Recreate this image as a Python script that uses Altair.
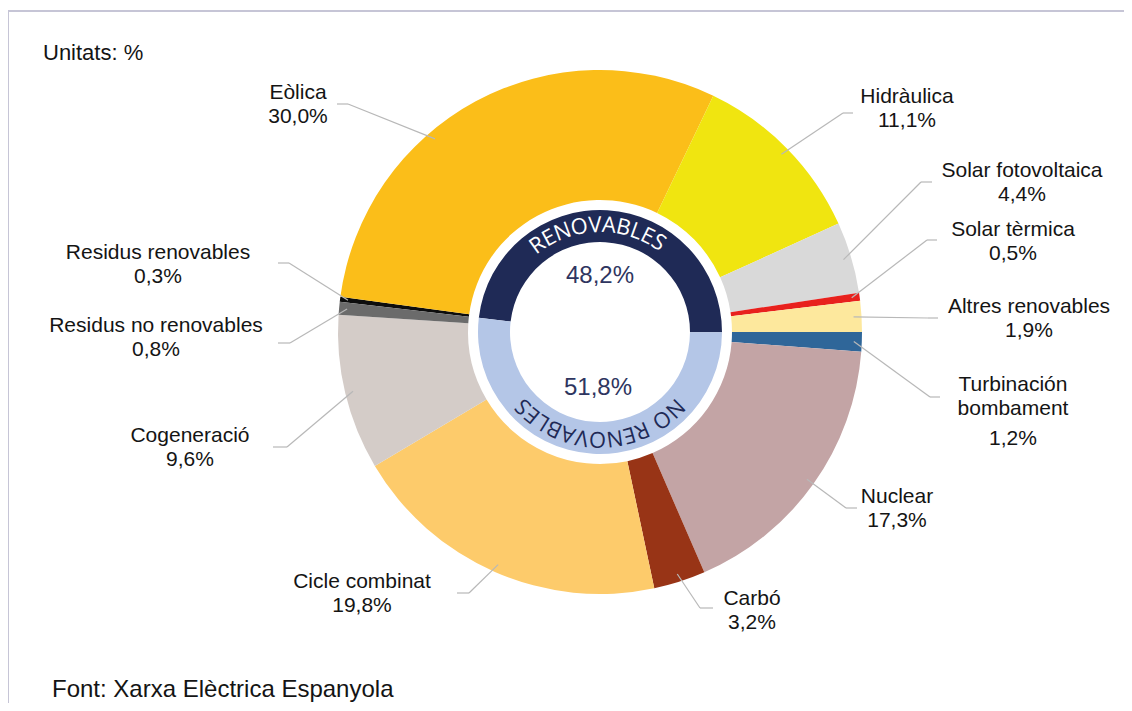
import math
import altair as alt
import pandas as pd

# ---------------- data ----------------
categories = ["Residus renovables", "Eòlica", "Hidràulica", "Solar fotovoltaica",
              "Solar tèrmica", "Altres renovables", "Turbinación bombament", "Nuclear",
              "Carbó", "Cicle combinat", "Cogeneració", "Residus no renovables"]
values = [0.3, 30.0, 11.1, 4.4, 0.5, 1.9, 1.2, 17.3, 3.2, 19.8, 9.6, 0.8]
renewable = [True, True, True, True, True, True, False, False, False, False, False, False]
label_lines = [["Residus renovables"], ["Eòlica"], ["Hidràulica"], ["Solar fotovoltaica"],
               ["Solar tèrmica"], ["Altres renovables"], ["Turbinación", "bombament"], ["Nuclear"],
               ["Carbó"], ["Cicle combinat"], ["Cogeneració"], ["Residus no renovables"]]
slice_colors = ["#0d0d0d", "#fbbe19", "#f0e510", "#d9d9d9", "#e8211d", "#fde89d",
                "#2f6699", "#c3a4a5", "#983416", "#fdcb6b", "#d4ccc8", "#6b6b6b"]

group_names = ["RENOVABLES", "NO RENOVABLES"]
group_values = [48.2, 51.8]
group_colors = ["#1f2a56", "#b4c6e7"]
group_text_colors = ["#ffffff", "#1f2a56"]

# ---------------- layout (page px, label text blocks & leader elbows) ----------------
OFF = 8
CX, CY = 600 - OFF, 332 - OFF
R_OUT, R_IN = 262, 132
RING_OUT, RING_IN = 122, 90
TIP_R = 254
LINE_H = 24

label_pos = [(158, 253), (298, 93), (907, 97), (1022, 171), (1013, 230), (1029, 307),
             (1013, 385), (897, 497), (752, 599), (362, 582), (190, 436), (156, 326)]
leader_attach = [(278, 263), (337, 104), (853, 113), (932, 182), (937, 240), (938, 318),
                 (940, 397), (857, 508), (713, 608), (457, 593), (273, 447), (278, 343)]
leader_elbow = [(289, 263), (348, 104), (843, 113), (921, 182), (927, 240), (928, 318),
                (930, 397), (846, 508), (700, 608), (469, 593), (287, 447), (290, 343)]
leader_tip_override = {1: -40.5}   # degrees clockwise from 12 o'clock


def fmt(v):
    return f"{v:.1f}".replace(".", ",") + "%"


# ---------------- derived tables ----------------
total = sum(values)
frac_ren = sum(v for v, r in zip(values, renewable) if r) / total
start = math.pi / 2 - 2 * math.pi * frac_ren

rows = []
acc = start
for c, v, col in zip(categories, values, slice_colors):
    a0 = acc
    acc += 2 * math.pi * v / total
    rows.append(dict(cat=c, value=v, t0=a0, t1=acc, mid=(a0 + acc) / 2, color=col))
slices = pd.DataFrame(rows)

grows = []
acc = start
for n, v, col in zip(group_names, group_values, group_colors):
    a0 = acc
    acc += 2 * math.pi * v / sum(group_values)
    grows.append(dict(name=n, value=v, t0=a0, t1=acc, color=col))
groups = pd.DataFrame(grows)

# label text rows
lab = []
for i, (lines, v) in enumerate(zip(label_lines, values)):
    lx, ly = label_pos[i]
    y = ly
    for ln in lines:
        lab.append(dict(x=lx - OFF, y=y - OFF, text=ln))
        y += LINE_H
    if len(lines) > 1:
        y += 6
    lab.append(dict(x=lx - OFF, y=y - OFF, text=fmt(v)))
labels = pd.DataFrame(lab)

# leader segments
seg = []
for i, r in slices.iterrows():
    ax, ay = leader_attach[i]
    ex, ey = leader_elbow[i]
    ang = math.radians(leader_tip_override[i]) if i in leader_tip_override else r["mid"]
    tx = CX + TIP_R * math.sin(ang)
    ty = CY - TIP_R * math.cos(ang)
    seg.append(dict(x=ax - OFF, y=ay - OFF, x2=ex - OFF, y2=ey - OFF))
    seg.append(dict(x=ex - OFF, y=ey - OFF, x2=tx, y2=ty))
segments = pd.DataFrame(seg)

# curved ring text
CW = {"R": .615, "E": .556, "N": .742, "O": .781, "V": .592, "A": .633,
      "B": .631, "L": .516, "S": .534, " ": .26}


def arc_text(s, center_deg, r, fs, track, color):
    widths = [CW[c] * fs for c in s]
    gap = track * fs
    length = sum(widths) + gap * (len(s) - 1)
    pos = -length / 2
    out = []
    for c, w in zip(s, widths):
        th = math.radians(center_deg) + (pos + w / 2) / r
        if c != " ":
            out.append(dict(ch=c, x=CX + r * math.sin(th), y=CY - r * math.cos(th),
                            ang=math.degrees(th) % 360, color=color))
        pos += w + gap
    return out


chars = pd.DataFrame(arc_text(group_names[0], -1.5, 107, 22, 0.03, group_text_colors[0])
                     + arc_text(group_names[1], 180, 107, 22, 0.03, group_text_colors[1]))

center_pct = pd.DataFrame([dict(x=CX, y=CY - 56, text=fmt(group_values[0])),
                           dict(x=CX - 2, y=CY + 56, text=fmt(group_values[1]))])

notes = pd.DataFrame([dict(x=43 - OFF, y=53 - OFF, text="Unitats: %", size=22),
                      dict(x=52 - OFF, y=690 - OFF, text="Font: Xarxa Elèctrica Espanyola", size=24)])

# ---------------- chart ----------------
frame = alt.Chart(pd.DataFrame([dict(x=0, y=3, x2=1116, y2=3), dict(x=0, y=3, x2=0, y2=695)])).mark_rule(
    color="#c6c5d6", strokeWidth=2).encode(
    x=alt.X("x:Q", scale=None), y=alt.Y("y:Q", scale=None),
    x2="x2:Q", y2="y2:Q")

outer = alt.Chart(slices).mark_arc(radius=R_OUT, radius2=R_IN).encode(
    theta=alt.Theta("t0:Q", scale=None, stack=None),
    theta2="t1:Q",
    color=alt.Color("color:N", scale=None),
    x=alt.value(CX), y=alt.value(CY))

inner = alt.Chart(groups).mark_arc(radius=RING_OUT, radius2=RING_IN).encode(
    theta=alt.Theta("t0:Q", scale=None, stack=None),
    theta2="t1:Q",
    color=alt.Color("color:N", scale=None),
    x=alt.value(CX), y=alt.value(CY))

leaders = alt.Chart(segments).mark_rule(color="#b8b8b8", strokeWidth=1.2).encode(
    x=alt.X("x:Q", scale=None), y=alt.Y("y:Q", scale=None),
    x2="x2:Q", y2="y2:Q")

label_text = alt.Chart(labels).mark_text(
    font="Liberation Sans", fontSize=21, color="#141414", align="center", baseline="middle").encode(
    x=alt.X("x:Q", scale=None), y=alt.Y("y:Q", scale=None), text="text:N")

ring_text = alt.Chart(chars).mark_text(
    font="Open Sans", fontSize=22, align="center", baseline="middle").encode(
    x=alt.X("x:Q", scale=None), y=alt.Y("y:Q", scale=None), text="ch:N",
    angle=alt.Angle("ang:Q", scale=None),
    color=alt.Color("color:N", scale=None))

pct_text = alt.Chart(center_pct).mark_text(
    font="Liberation Sans", fontSize=24, color="#2e3560", align="center", baseline="middle").encode(
    x=alt.X("x:Q", scale=None), y=alt.Y("y:Q", scale=None), text="text:N")

note_text = alt.Chart(notes).mark_text(
    font="Liberation Sans", color="#141414", align="left", baseline="middle").encode(
    x=alt.X("x:Q", scale=None), y=alt.Y("y:Q", scale=None), text="text:N",
    size=alt.Size("size:Q", scale=None))

chart = alt.layer(frame, outer, inner, leaders, label_text, ring_text, pct_text, note_text).properties(
    width=1116, height=695, padding=0, autosize="none", background="white"
).configure_view(stroke=None)

chart.save("out.html", embed_options={"renderer": "svg", "actions": False})
